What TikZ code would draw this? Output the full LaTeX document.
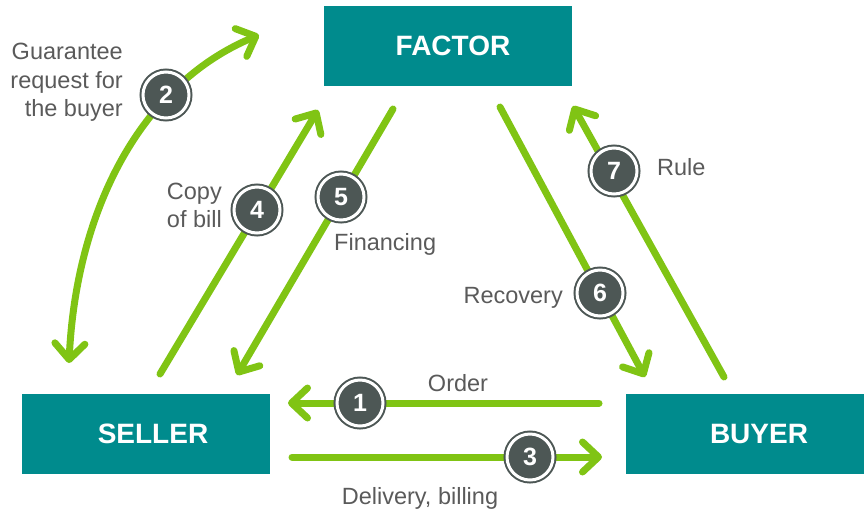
\documentclass[tikz,border=0pt]{standalone}
\usepackage{fontspec}
\setmainfont{Liberation Sans}
\usetikzlibrary{arrows.meta}
\definecolor{boxteal}{RGB}{0,139,141}
\definecolor{flowgreen}{RGB}{128,196,20}
\definecolor{numgray}{RGB}{77,87,85}
\definecolor{txtgray}{RGB}{90,90,90}

\begin{document}
\begin{tikzpicture}[x=1pt, y=-1pt,
    party/.style={rectangle, fill=boxteal, text=white, inner sep=0pt, minimum height=80pt, font=\fontsize{28}{32}\selectfont\bfseries},
    flow/.style={draw=flowgreen, line width=7pt, line cap=round, >={Straight Barb[length=16pt, width=30pt, round]}, ->},
    num/.style={circle, minimum size=46pt, inner sep=0pt, fill=numgray, draw=numgray, line width=2pt, double=white, double distance=3pt, text=white, font=\fontsize{25}{30}\selectfont\bfseries},
    lbl/.style={text=txtgray, inner sep=0pt, font=\fontsize{23.5}{28.5}\selectfont}]

    \useasboundingbox (0, 0) rectangle (864, 515);
    \clip (0, 0) rectangle (864, 515);

    % Parties
    \node at (448, 45.5) [party, minimum width=248pt] (factor) {\hspace*{10pt}FACTOR};
    \node at (146, 433.5) [party, minimum width=248pt] (seller) {\hspace*{14pt}SELLER};
    \node at (753, 433.5) [party, minimum width=254pt] (buyer) {\hspace*{12pt}BUYER};

    % Arrow ends
    \coordinate (o1a) at (599, 403);
    \coordinate (o1b) at (288, 403);
    \coordinate (g2a) at (259, 35);
    \coordinate (g2b) at (69, 363);
    \coordinate (d3a) at (292, 457);
    \coordinate (d3b) at (602, 457);
    \coordinate (c4a) at (160, 374);
    \coordinate (c4b) at (318, 110);
    \coordinate (f5a) at (393, 109);
    \coordinate (f5b) at (237, 375);
    \coordinate (r6a) at (500, 107);
    \coordinate (r6b) at (645, 377);
    \coordinate (r7a) at (724, 377);
    \coordinate (r7b) at (573, 106);

    % Flows
    \draw[flow] (o1a) -- (o1b);
    \draw[flow, <->] (g2a) .. controls (139, 85) and (76, 213) .. (g2b);
    \draw[flow] (d3a) -- (d3b);
    \draw[flow] (c4a) -- (c4b);
    \draw[flow] (f5a) -- (f5b);
    \draw[flow] (r6a) -- (r6b);
    \draw[flow] (r7a) -- (r7b);

    % Steps
    \node at (360, 403) [num] (n1) {1};
    \node at (166, 95) [num] (n2) {2};
    \node at (530, 457) [num] (n3) {3};
    \node at (257, 210) [num] (n4) {4};
    \node at (341, 197) [num] (n5) {5};
    \node at (600, 293) [num] (n6) {6};
    \node at (614, 171) [num] (n7) {7};

    % Labels
    \node at (458, 391) [lbl, anchor=base] (l1) {Order};
    \node at (123, 82.5) [lbl, anchor=east, align=right] (l2) {Guarantee\\request for\\the buyer};
    \node at (420, 504) [lbl, anchor=base] (l3) {Delivery, billing};
    \node at (222, 205.5) [lbl, anchor=east, align=right] (l4) {Copy\\of bill};
    \node at (334, 250) [lbl, anchor=base west] (l5) {Financing};
    \node at (563, 303) [lbl, anchor=base east] (l6) {Recovery};
    \node at (657, 175) [lbl, anchor=base west] (l7) {Rule};
\end{tikzpicture}
\end{document}
